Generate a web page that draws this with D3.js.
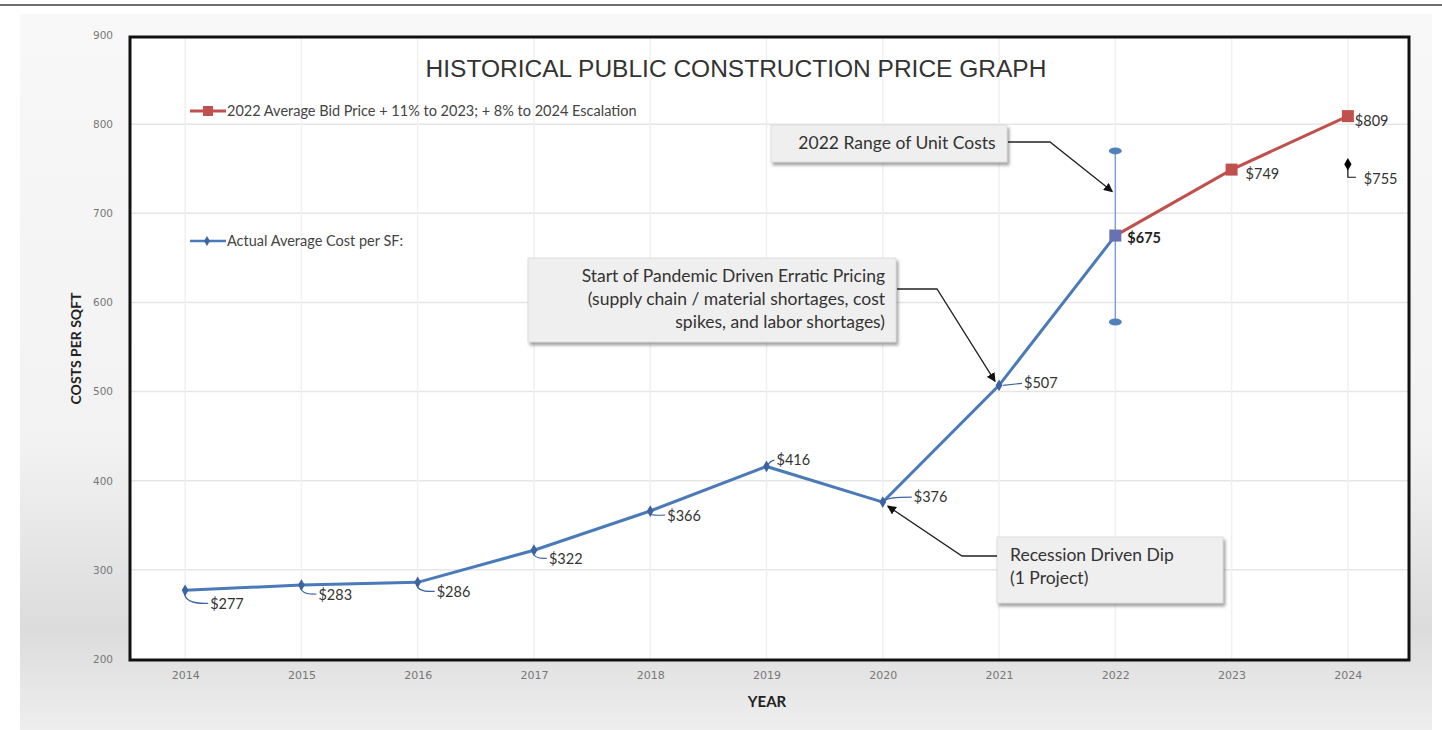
<!DOCTYPE html>
<html>
<head>
<meta charset="utf-8">
<script src="https://cdn.jsdelivr.net/npm/d3@7"></script>
<style>
  body { margin: 0; background: #fff; }
  svg { display: block; }
</style>
</head>
<body>
<script>
// data
var years = [2014, 2015, 2016, 2017, 2018, 2019, 2020, 2021, 2022, 2023, 2024];
var actualYears = [2014, 2015, 2016, 2017, 2018, 2019, 2020, 2021, 2022];
var actualCost = [277, 283, 286, 322, 366, 416, 376, 507, 675];
var bidYears = [2022, 2023, 2024];
var bidCost = [675, 749, 809];
var extraYear = 2024, extraCost = 755;
var rangeYear = 2022, rangeLow = 578, rangeHigh = 770;
var yTicks = [200, 300, 400, 500, 600, 700, 800, 900];

var W = 1442, H = 730;
var frame = { left: 130, top: 37, right: 1409, bottom: 660 };
var labelFont = "Lato, 'Open Sans', sans-serif";
var tickFont = "'DejaVu Sans', sans-serif";

var svg = d3.select('body').append('svg')
    .attr('width', W).attr('height', H);

var defs = svg.append('defs');
var grad = defs.append('linearGradient').attr('id', 'panelGrad')
    .attr('x1', 0).attr('y1', 0).attr('x2', 0).attr('y2', 1);
grad.append('stop').attr('offset', '0%').attr('stop-color', '#f8f8f8');
grad.append('stop').attr('offset', '60%').attr('stop-color', '#f2f2f2');
grad.append('stop').attr('offset', '86%').attr('stop-color', '#dcdcdc');
grad.append('stop').attr('offset', '100%').attr('stop-color', '#eeeeee');

var shadow = defs.append('filter').attr('id', 'shadow')
    .attr('x', '-5%').attr('y', '-5%').attr('width', '115%').attr('height', '130%');
shadow.append('feDropShadow').attr('dx', 2).attr('dy', 3).attr('stdDeviation', 1.5)
    .attr('flood-color', '#666').attr('flood-opacity', 0.6);

// page line + panel
svg.append('line').attr('x1', 0).attr('x2', W).attr('y1', 5).attr('y2', 5)
    .attr('stroke', '#707070').attr('stroke-width', 2);
svg.append('rect').attr('x', 20).attr('y', 14).attr('width', 1412).attr('height', 716)
    .attr('fill', 'url(#panelGrad)');

var x = d3.scalePoint()
    .domain(years)
    .range([frame.left - 3, frame.right - 3])
    .padding(0.5);

var y = d3.scaleLinear()
    .domain([200, 900])
    .range([659, 35]);

// plot area
svg.append('rect')
    .attr('x', frame.left).attr('y', frame.top)
    .attr('width', frame.right - frame.left).attr('height', frame.bottom - frame.top)
    .attr('fill', '#fff');

// grid
svg.append('g').selectAll('line')
    .data(yTicks.filter(function(d) { return d > 200 && d < 900; }))
    .enter().append('line')
        .attr('x1', frame.left).attr('x2', frame.right)
        .attr('y1', function(d) { return y(d); }).attr('y2', function(d) { return y(d); })
        .attr('stroke', '#e6e6e6').attr('stroke-width', 1.5);

svg.append('g').selectAll('line')
    .data(years)
    .enter().append('line')
        .attr('x1', function(d) { return x(d); }).attr('x2', function(d) { return x(d); })
        .attr('y1', frame.top).attr('y2', frame.bottom)
        .attr('stroke', '#f0f0f0').attr('stroke-width', 1.5);

// axes
var yAxis = svg.append('g')
    .attr('transform', 'translate(' + (frame.left - 11) + ',0)')
    .call(d3.axisLeft(y).tickValues(yTicks).tickSize(0).tickPadding(6));
yAxis.select('.domain').remove();
yAxis.selectAll('text').attr('font-family', tickFont).attr('font-size', 10.5).attr('fill', '#777');

var xAxis = svg.append('g')
    .attr('transform', 'translate(0,' + (frame.bottom + 6) + ')')
    .call(d3.axisBottom(x).tickSize(0).tickPadding(5).tickFormat(d3.format('d')));
xAxis.select('.domain').remove();
xAxis.selectAll('text').attr('font-family', tickFont).attr('font-size', 11).attr('fill', '#777');

svg.append('text')
    .attr('transform', 'translate(81,' + ((frame.top + frame.bottom) / 2) + ') rotate(-90)')
    .attr('text-anchor', 'middle')
    .attr('font-family', labelFont).attr('font-weight', 'bold').attr('font-size', 14)
    .attr('fill', '#222')
    .text('COSTS PER SQFT');

svg.append('text')
    .attr('x', 767).attr('y', 707)
    .attr('text-anchor', 'middle')
    .attr('font-family', labelFont).attr('font-weight', 'bold').attr('font-size', 15)
    .attr('fill', '#222')
    .text('YEAR');

// frame border
svg.append('rect')
    .attr('x', frame.left).attr('y', frame.top)
    .attr('width', frame.right - frame.left).attr('height', frame.bottom - frame.top)
    .attr('fill', 'none').attr('stroke', '#111').attr('stroke-width', 3);

// title
svg.append('text')
    .attr('x', 736).attr('y', 77)
    .attr('text-anchor', 'middle')
    .attr('font-family', "'Liberation Sans', Arial, sans-serif").attr('font-size', 24.5)
    .attr('fill', '#333')
    .text('HISTORICAL PUBLIC CONSTRUCTION PRICE GRAPH');

// legend
var legend = svg.append('g').attr('font-family', labelFont).attr('font-size', 14.5).attr('fill', '#444');
legend.append('line').attr('x1', 190).attr('x2', 226).attr('y1', 111).attr('y2', 111)
    .attr('stroke', '#c0504d').attr('stroke-width', 3);
legend.append('rect').attr('x', 203).attr('y', 106).attr('width', 10).attr('height', 10).attr('fill', '#c0504d');
legend.append('text').attr('x', 227).attr('y', 116)
    .text('2022 Average Bid Price + 11% to 2023; + 8% to 2024 Escalation');
legend.append('line').attr('x1', 190).attr('x2', 226).attr('y1', 241).attr('y2', 241)
    .attr('stroke', '#4a7ab8').attr('stroke-width', 2.5);
legend.append('path').attr('d', d3.symbol(d3.symbolDiamond, 30)())
    .attr('transform', 'translate(207,241)').attr('fill', '#3c64a0');
legend.append('text').attr('x', 227).attr('y', 246)
    .text('Actual Average Cost per SF:');

// range error bar
svg.append('line')
    .attr('x1', x(rangeYear)).attr('x2', x(rangeYear))
    .attr('y1', y(rangeHigh)).attr('y2', y(rangeLow))
    .attr('stroke', '#7ea3d4').attr('stroke-width', 1.5);
svg.selectAll('.cap')
    .data([rangeLow, rangeHigh])
    .enter().append('ellipse')
        .attr('cx', x(rangeYear)).attr('cy', function(d) { return y(d); })
        .attr('rx', 6.5).attr('ry', 3.5)
        .attr('fill', '#4f81bd');

// lines
var line = d3.line()
    .x(function(d) { return x(d[0]); })
    .y(function(d) { return y(d[1]); });

var actual = d3.zip(actualYears, actualCost);
var bid = d3.zip(bidYears, bidCost);

svg.append('path').datum(bid)
    .attr('d', line).attr('fill', 'none')
    .attr('stroke', '#c0504d').attr('stroke-width', 3);

svg.append('path').datum(actual)
    .attr('d', line).attr('fill', 'none')
    .attr('stroke', '#4a7ab8').attr('stroke-width', 3);

svg.selectAll('.dmark')
    .data(actual.slice(0, -1))
    .enter().append('path')
        .attr('d', d3.symbol(d3.symbolDiamond, 40)())
        .attr('transform', function(d) { return 'translate(' + x(d[0]) + ',' + y(d[1]) + ')'; })
        .attr('fill', '#3c64a0');

svg.selectAll('.smark')
    .data(bid.slice(1))
    .enter().append('rect')
        .attr('x', function(d) { return x(d[0]) - 6; })
        .attr('y', function(d) { return y(d[1]) - 6; })
        .attr('width', 12).attr('height', 12)
        .attr('fill', '#c0504d');

svg.append('rect')
    .attr('x', x(2022) - 6).attr('y', y(675) - 6)
    .attr('width', 12).attr('height', 12)
    .attr('fill', '#6672b3');

svg.append('path')
    .attr('d', d3.symbol(d3.symbolDiamond, 45)())
    .attr('transform', 'translate(' + x(extraYear) + ',' + y(extraCost) + ')')
    .attr('fill', '#000');

// data labels (offset: dx, dy, leader type)
var labelOffsets = {
    2014: [25, 14, 'down'], 2015: [17, 10, 'down'], 2016: [19, 10, 'down'],
    2017: [15, 9, 'down'], 2018: [17, 5, 'down'], 2019: [10, -6, 'up'],
    2020: [31, -5, 'up'], 2021: [25, -2, 'flat']
};
var lab = svg.append('g').attr('font-family', labelFont).attr('font-size', 14.5).attr('fill', '#333');
actual.slice(0, -1).forEach(function(d) {
    var o = labelOffsets[d[0]], px = x(d[0]), py = y(d[1]);
    var tx = px + o[0], ty = py + o[1];
    lab.append('text').attr('x', tx).attr('y', ty + 5).text('$' + d[1]);
    var path;
    if (o[2] === 'down') path = 'M' + (px - 1) + ',' + (py + 2) + ' Q' + (px) + ',' + (ty) + ' ' + (tx - 2) + ',' + (ty - 1);
    else if (o[2] === 'up') path = 'M' + (px + 1) + ',' + (py - 1) + ' Q' + (px + 4) + ',' + (ty) + ' ' + (tx - 2) + ',' + (ty);
    else path = 'M' + (px + 4) + ',' + (py) + ' L' + (tx - 2) + ',' + (ty);
    lab.append('path').attr('d', path).attr('fill', 'none').attr('stroke', '#3c64a0').attr('stroke-width', 1.2);
});
lab.append('text').attr('x', x(2022) + 12).attr('y', y(675) + 7)
    .attr('font-weight', 'bold').attr('fill', '#222').text('$675');
lab.append('text').attr('x', x(2023) + 14).attr('y', y(749) + 9).text('$749');
lab.append('text').attr('x', x(2024) + 7).attr('y', y(809) + 10).text('$809');
lab.append('text').attr('x', x(2024) + 16).attr('y', y(755) + 20).text('$755');
lab.append('path')
    .attr('d', 'M' + x(2024) + ',' + (y(755) + 3) + ' L' + x(2024) + ',' + (y(755) + 13) + ' L' + (x(2024) + 8) + ',' + (y(755) + 13))
    .attr('fill', 'none').attr('stroke', '#111').attr('stroke-width', 1.2);

// annotation callouts
defs.append('marker').attr('id', 'arrow')
    .attr('viewBox', '0 0 10 10').attr('refX', 9).attr('refY', 5)
    .attr('markerWidth', 7).attr('markerHeight', 7).attr('orient', 'auto-start-reverse')
    .append('path').attr('d', 'M0,0 L10,5 L0,10 z').attr('fill', '#111');

function callout(box, lines, anchor, connector, target) {
    var g = svg.append('g');
    g.append('rect')
        .attr('x', box[0]).attr('y', box[1]).attr('width', box[2]).attr('height', box[3])
        .attr('fill', '#efefef').attr('stroke', '#d8d8d8').attr('stroke-width', 0.8)
        .attr('filter', 'url(#shadow)');
    var t = g.append('text')
        .attr('font-family', labelFont).attr('font-size', 17.5).attr('fill', '#333')
        .attr('text-anchor', anchor.align);
    lines.forEach(function(s, i) {
        t.append('tspan').attr('x', anchor.x).attr('y', anchor.y + i * 23).text(s);
    });
    svg.append('path')
        .attr('d', d3.line()(connector.concat([[x(target[0]) + target[2], y(target[1]) + target[3]]])))
        .attr('fill', 'none').attr('stroke', '#222').attr('stroke-width', 1.3)
        .attr('marker-end', 'url(#arrow)');
}

callout([771, 125, 236, 37], ['2022 Range of Unit Costs'],
    { x: 897, y: 149, align: 'middle' },
    [[1008, 142], [1050, 142]], [2022, 675, -3, -44]);

callout([528, 258, 368, 84], ['Start of Pandemic Driven Erratic Pricing',
        '(supply chain / material shortages, cost', 'spikes, and labor shortages)'],
    { x: 885, y: 282, align: 'end' },
    [[897, 289], [937, 289]], [2021, 507, -4, -4]);

callout([997, 537, 226, 66], ['Recession Driven Dip', '(1 Project)'],
    { x: 1010, y: 561, align: 'start' },
    [[997, 556], [962, 556]], [2020, 376, 5, 4]);
</script>
</body>
</html>
